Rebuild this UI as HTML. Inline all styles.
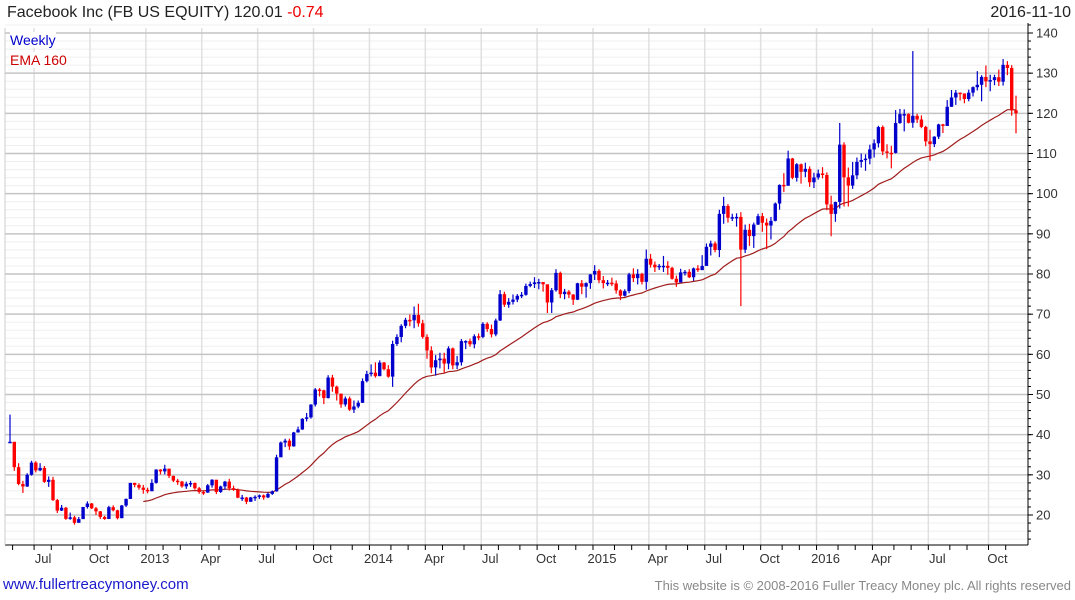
<!DOCTYPE html>
<html><head><meta charset="utf-8"><style>
body{margin:0;background:#fff;font-family:"Liberation Sans",sans-serif;}
#wrap{position:relative;width:1075px;height:600px;overflow:hidden;}
.t{position:absolute;white-space:nowrap;z-index:2;}
</style></head><body>
<div id="wrap">
<svg id="ch" width="1075" height="600" style="position:absolute;left:0;top:0;z-index:1"></svg>
<div class="t" style="left:7px;top:4px;font-size:16px;color:#222">Facebook Inc (FB US EQUITY) 120.01 <span style="color:#e00">-0.74</span></div>
<div class="t" style="right:4px;top:4px;font-size:16px;color:#222">2016-11-10</div>
<div class="t" style="left:10px;top:32px;font-size:14px;color:#0000cc;background:#fff">Weekly</div>
<div class="t" style="left:10px;top:52px;font-size:14px;color:#c00;background:#fff">EMA 160</div>
<div class="t" style="left:3px;top:576px;font-size:15px;color:#1a1acc">www.fullertreacymoney.com</div>
<div class="t" style="right:4px;top:578px;font-size:13px;color:#888">This website is © 2008-2016 Fuller Treacy Money plc. All rights reserved</div>
</div>
<script>
const closes=[38.23,31.91,27.72,27.10,30.01,33.05,31.10,31.73,28.25,28.76,23.71,21.09,21.81,19.05,19.41,18.06,18.98,22.00,22.86,21.66,20.91,19.52,19.00,21.94,21.18,19.21,22.36,24.00,28.00,27.49,26.81,26.26,25.91,
28.0,31.30,30.86,31.54,29.73,28.55,28.32,27.13,27.78,27.96,26.65,25.73,25.58,27.39,28.79,25.73,27.11,28.31,26.68,26.25,24.31,24.35,23.29,24.37,24.53,24.88,24.37,25.26,25.88,34.36,38.05,38.50,37.08,40.55,41.29,43.95,44.31,47.49,51.24,51.04,49.11,54.22,51.95,50.23,47.53,49.01,46.23,47.01,47.94,53.32,55.12,55.44,
54.56,57.94,56.30,54.45,62.57,64.32,67.09,68.59,68.46,69.80,67.72,64.34,60.97,56.75,58.53,58.94,57.71,61.48,57.24,58.02,63.30,63.30,62.50,64.50,64.34,67.60,66.29,64.97,68.42,74.98,72.36,73.06,73.63,74.57,74.82,77.03,77.48,77.91,78.00,77.44,72.91,75.95,80.28,74.99,75.60,74.88,73.60,77.70,76.84,77.73,79.88,80.77,
78.45,77.74,77.83,77.65,75.91,74.60,75.74,79.90,78.97,80.01,78.05,83.80,82.32,81.67,82.04,82.04,81.53,78.81,77.88,80.41,80.55,79.19,81.40,80.96,82.01,86.77,87.60,85.98,94.97,96.95,94.01,94.15,94.21,86.06,91.01,89.43,92.31,94.40,92.77,92.07,93.24,97.54,102.19,101.97,108.76,103.95,107.32,105.45,106.18,102.84,104.04,105.02,104.66,
97.33,94.97,97.94,112.21,104.07,102.01,104.57,107.92,108.39,108.72,111.02,112.54,116.58,110.51,110.18,110.14,117.58,119.81,119.81,117.65,119.38,118.47,116.62,113.02,112.33,114.19,117.24,116.86,121.63,123.94,125.15,124.96,123.56,125.15,126.51,127.10,129.07,127.96,128.27,128.99,127.88,132.07,131.29,120.75,120.01];
const highs=[45.0,36.9,32.9,28.5,30.4,33.5,33.4,32.9,32.2,29.6,29.5,24.0,22.5,22.0,20.6,19.8,19.5,22.0,23.4,23.0,22.0,21.0,19.8,22.3,22.4,21.3,22.5,24.1,28.0,28.0,27.9,27.5,26.8,
28.9,31.4,31.4,32.5,31.5,29.8,29.0,28.5,28.3,28.5,28.1,27.0,26.1,27.7,28.9,28.6,27.3,28.5,29.0,27.3,26.6,25.0,24.5,24.5,24.9,25.1,25.1,25.6,26.1,35.0,38.3,39.0,39.0,40.7,42.0,44.1,45.4,47.6,51.6,51.6,51.2,54.8,54.9,52.2,50.0,49.5,49.5,48.5,48.5,54.0,55.9,57.5,
58.0,58.5,58.1,57.3,63.4,65.0,67.5,69.1,69.9,71.9,72.6,68.6,65.0,62.0,59.8,60.4,60.4,62.0,61.7,59.6,63.8,63.5,63.9,65.0,65.2,68.0,68.0,67.4,68.9,76.0,75.6,74.0,74.9,75.0,75.5,77.6,78.1,79.2,78.8,78.0,77.3,76.5,81.2,80.6,76.3,76.0,75.0,77.8,78.5,77.9,80.0,82.2,
81.2,79.5,78.5,79.1,78.4,76.2,76.2,80.3,81.4,81.2,80.3,86.1,85.0,83.1,82.5,84.5,83.2,81.8,79.6,81.3,81.0,81.2,81.6,82.2,84.7,87.6,88.3,88.1,96.0,99.2,97.4,95.0,95.1,95.4,92.3,92.5,92.8,95.0,95.2,93.8,94.2,97.8,102.3,105.1,110.7,108.9,107.6,107.5,107.7,106.8,105.2,106.0,106.6,
105.3,99.5,98.0,117.6,112.8,106.5,107.9,109.0,110.0,109.8,112.2,113.5,116.9,117.0,112.3,111.9,120.8,121.1,121.0,120.0,135.5,119.9,119.5,116.9,115.9,114.3,117.4,117.4,123.3,125.8,125.8,125.2,124.8,125.9,126.7,130.5,129.5,131.9,129.6,129.6,130.9,133.5,133.0,132.0,124.4];
const lows=[38.0,31.0,27.4,25.5,27.0,29.8,30.6,30.9,28.0,27.0,23.5,20.5,21.0,18.8,18.8,17.6,18.1,19.5,21.6,21.5,20.0,19.0,18.8,19.1,20.9,18.9,19.2,22.0,24.0,26.9,26.3,25.3,25.4,
26.0,27.8,30.1,30.1,29.2,28.2,27.5,26.8,26.5,27.0,26.3,25.3,25.0,25.5,26.8,25.2,25.5,26.3,26.1,26.0,24.2,23.5,22.7,23.3,23.5,24.0,23.8,24.2,25.0,25.8,34.5,36.9,36.2,37.0,40.5,41.2,43.3,44.0,47.0,49.5,47.6,49.0,50.7,48.5,46.7,47.0,45.9,45.4,46.6,47.9,53.0,54.5,
54.2,54.6,56.0,54.2,51.9,62.1,63.0,66.5,67.0,66.5,66.9,63.9,58.9,55.3,54.7,56.5,55.4,56.3,56.3,56.3,57.2,61.3,61.9,61.5,63.5,64.0,65.6,64.2,64.5,68.3,71.8,71.6,72.4,73.0,74.0,74.6,76.7,76.5,76.2,75.6,70.3,70.3,75.6,74.0,73.7,74.0,72.3,73.5,75.0,74.1,76.3,78.5,
77.7,76.4,77.0,77.0,75.1,73.5,74.4,75.2,78.0,77.4,77.4,76.1,81.6,80.5,81.0,80.5,79.8,78.6,76.8,78.1,79.6,79.0,78.3,80.5,81.3,82.5,84.6,85.4,84.2,92.5,92.8,93.2,91.8,72.0,85.2,87.0,86.5,92.2,90.5,86.2,88.6,93.1,96.0,100.4,102.0,103.6,103.0,102.5,104.1,101.7,101.4,103.5,103.8,
95.9,89.4,93.0,96.3,96.8,96.8,101.2,103.6,106.5,105.7,107.3,109.0,111.5,109.6,108.8,106.3,110.0,117.4,115.5,117.5,116.4,117.6,116.3,111.8,108.2,111.6,113.6,115.1,116.9,121.6,122.1,123.2,122.5,123.0,124.2,125.7,123.0,126.5,125.5,127.0,126.8,126.9,129.5,119.4,115.0];
const firstOpen=38.0;
const yTicks=[20,30,40,50,60,70,80,90,100,110,120,130,140];
const monthNames=["Jan","Feb","Mar","Apr","May","Jun","Jul","Aug","Sep","Oct","Nov","Dec"];
const emaPeriodDays=160;

const NS="http://www.w3.org/2000/svg";
const svg=document.getElementById('ch');
const L=5,R=1028,T=28,B=545;
const x0=10,dx=(1016-10)/(closes.length-1);
function X(i){return x0+i*dx;}
function Y(v){return 515-(v-20)*(482/120);}
function mk(tag,a,parent){const e=document.createElementNS(NS,tag);for(const k in a)e.setAttribute(k,a[k]);(parent||svg).appendChild(e);return e;}
const start=new Date(Date.UTC(2012,4,18));
function dateOf(i){return new Date(start.getTime()+i*7*86400000);}
for(let v=14;v<=142;v+=2){if(v%10===0)continue;const g=mk('line',{x1:L,x2:R,y1:Y(v),y2:Y(v),stroke:'#efefef','stroke-width':1});}
const months=[];
for(let i=1;i<closes.length;i++){const a=dateOf(i-1),b=dateOf(i);if(a.getUTCMonth()!==b.getUTCMonth())months.push({i,m:b.getUTCMonth(),y:b.getUTCFullYear()});}
months.forEach(o=>{if(o.m%3===0){const g=mk('line',{x1:X(o.i)-6,x2:X(o.i)-6,y1:T,y2:B,stroke:'#e0e0e0','stroke-width':1.5});}});
yTicks.forEach(v=>{const g=mk('line',{x1:L,x2:R,y1:Y(v),y2:Y(v),stroke:'#c4c4c4','stroke-width':1.5});
const t=mk('text',{x:1036,y:Y(v)+4.5,'font-size':13,fill:'#333','font-family':'Liberation Sans, sans-serif'});t.textContent=v;
mk('line',{x1:R,x2:R+5,y1:Y(v),y2:Y(v),stroke:'#000'});});
for(let v=14;v<=142;v+=2)mk('line',{x1:R,x2:R+3,y1:Y(v),y2:Y(v),stroke:'#000'});
const ax=mk('line',{x1:R,x2:R,y1:T-5,y2:B,stroke:'#000','stroke-width':1});
const bx=mk('line',{x1:L,x2:R,y1:B,y2:B,stroke:'#000','stroke-width':1});
mk('line',{x1:L,x2:L,y1:T,y2:B,stroke:'#ccc'});
months.forEach(o=>{mk('line',{x1:X(o.i)-6,x2:X(o.i)-6,y1:B,y2:B+5,stroke:'#000'});
if(o.m%3===0){const t=mk('text',{x:X(o.i)+3,y:B+18,'font-size':13,fill:'#333','text-anchor':'middle','font-family':'Liberation Sans, sans-serif'});t.textContent=o.m===0?o.y:monthNames[o.m];}});
// EMA (160 trading days ≈ 32 weeks)
const per=emaPeriodDays/5;
let ema=closes[0],pts=[];
for(let i=0;i<closes.length;i++){const n=Math.min(i+1,per);const a=2/(n+1);ema=i===0?closes[0]:ema+a*(closes[i]-ema);if(i>=31)pts.push(X(i).toFixed(1)+','+Y(ema).toFixed(1));}
const el=mk('polyline',{points:pts.join(' '),fill:'none',stroke:'#a01c1c','stroke-width':1.2});


for(let i=0;i<closes.length;i++){
 const o=i===0?firstOpen:closes[i-1],c=closes[i];
 const col=c>=o?'#0000cc':'#ff0000';
 const g=mk('g',{});
 
 
 const x=X(i);
 mk('line',{x1:x,x2:x,y1:Y(highs[i]),y2:Y(lows[i]),stroke:col,'stroke-width':1.2},g);
 const top=Y(Math.max(o,c)),h=Math.max(1.5,Math.abs(Y(o)-Y(c)));
 mk('rect',{x:x-1.7,y:top,width:3.4,height:h,fill:col},g);
}
</script>
</body></html>
